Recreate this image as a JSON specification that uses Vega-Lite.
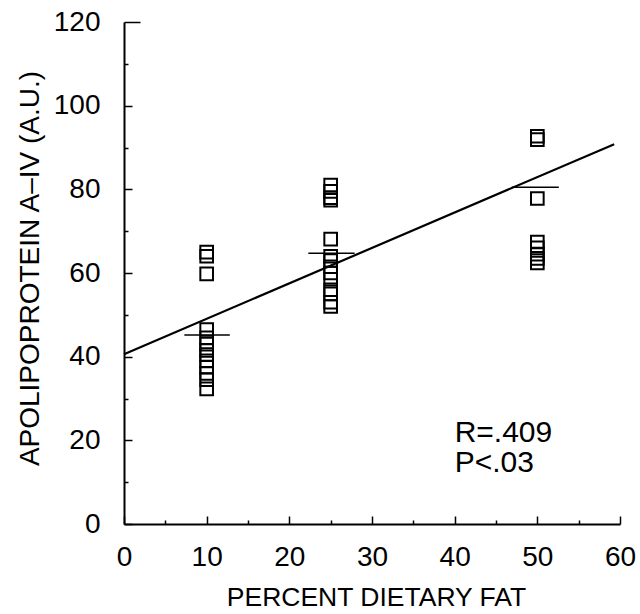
{
  "$schema": "https://vega.github.io/schema/vega-lite/v6.json",
  "width": 496,
  "height": 502,
  "autosize": "none",
  "padding": {"left": 124, "top": 22, "right": 20, "bottom": 90},
  "background": "white",
  "config": {
    "view": {"stroke": null},
    "font": "Liberation Sans",
    "axis": {
      "grid": false,
      "domainColor": "black",
      "domainWidth": 2,
      "tickColor": "black",
      "tickWidth": 1.5,
      "labelColor": "black",
      "titleColor": "black",
      "labelFont": "Liberation Sans",
      "titleFont": "Liberation Sans",
      "labelFontWeight": "normal",
      "titleFontWeight": "normal"
    }
  },
  "datasets": {
    "points": [
      {"fat": 10, "apo": 65.0}, {"fat": 10, "apo": 64.0}, {"fat": 10, "apo": 59.8},
      {"fat": 10, "apo": 46.5}, {"fat": 10, "apo": 44.5}, {"fat": 10, "apo": 43.0},
      {"fat": 10, "apo": 41.5}, {"fat": 10, "apo": 40.5}, {"fat": 10, "apo": 39.0},
      {"fat": 10, "apo": 37.5}, {"fat": 10, "apo": 36.0}, {"fat": 10, "apo": 34.5},
      {"fat": 10, "apo": 32.3},
      {"fat": 25, "apo": 81.0}, {"fat": 25, "apo": 79.5}, {"fat": 25, "apo": 78.0},
      {"fat": 25, "apo": 77.4}, {"fat": 25, "apo": 68.1}, {"fat": 25, "apo": 64.0},
      {"fat": 25, "apo": 63.0}, {"fat": 25, "apo": 61.5}, {"fat": 25, "apo": 60.0},
      {"fat": 25, "apo": 58.5}, {"fat": 25, "apo": 56.0}, {"fat": 25, "apo": 55.0},
      {"fat": 25, "apo": 53.0}, {"fat": 25, "apo": 52.0},
      {"fat": 50, "apo": 92.7}, {"fat": 50, "apo": 91.9}, {"fat": 50, "apo": 77.8},
      {"fat": 50, "apo": 67.4}, {"fat": 50, "apo": 66.0}, {"fat": 50, "apo": 64.5},
      {"fat": 50, "apo": 63.5}, {"fat": 50, "apo": 62.4}
    ],
    "means": [
      {"fat": 7.3, "fat2": 12.8, "apo": 45.2},
      {"fat": 22.3, "fat2": 27.9, "apo": 64.7},
      {"fat": 46.9, "fat2": 52.6, "apo": 80.5}
    ],
    "fit": [
      {"fat": 0, "apo": 40.6},
      {"fat": 59.3, "apo": 90.8}
    ],
    "notes": [
      {"fat": 40, "apo": 19.6, "label": "R=.409"},
      {"fat": 40, "apo": 12.4, "label": "P<.03"}
    ]
  },
  "layer": [
    {
      "data": {"name": "points"},
      "mark": {"type": "point", "shape": "square", "filled": false, "color": "black", "size": 160, "strokeWidth": 2, "opacity": 1},
      "encoding": {
        "x": {
          "field": "fat", "type": "quantitative",
          "scale": {"domain": [0, 60], "nice": false, "zero": true},
          "axis": {
            "title": "PERCENT DIETARY FAT",
            "values": [0, 5, 10, 15, 20, 25, 30, 35, 40, 45, 50, 55, 60],
            "labelExpr": "datum.value % 10 === 0 ? datum.label : ''",
            "tickSize": -8,
            "encoding": {
              "ticks": {
                "y2": {"condition": {"test": "datum.value % 10 === 0", "value": -8}, "value": -4}
              }
            },
            "labelPadding": 27,
            "labelBaseline": "top",
            "labelFontSize": 28,
            "labelFlush": false,
            "labelOverlap": false,
            "titleFontSize": 26.5,
            "titleBaseline": "alphabetic",
            "titleX": 252,
            "titleY": 81
          }
        },
        "y": {
          "field": "apo", "type": "quantitative",
          "scale": {"domain": [0, 120], "nice": false, "zero": true},
          "axis": {
            "title": "APOLIPOPROTEIN A–IV (A.U.)",
            "values": [0, 10, 20, 30, 40, 50, 60, 70, 80, 90, 100, 110, 120],
            "labelExpr": "datum.value % 20 === 0 ? datum.label : ''",
            "tickSize": -8,
            "encoding": {
              "ticks": {
                "x2": {"condition": [{"test": "datum.value === 120", "value": 16}, {"test": "datum.value % 20 === 0", "value": 8}], "value": 4}
              }
            },
            "labelPadding": 32,
            "labelFontSize": 28,
            "labelFlush": false,
            "labelOverlap": false,
            "labelBaseline": "middle",
            "titleFontSize": 28,
            "titleAngle": -90,
            "titleAlign": "center",
            "titleBaseline": "alphabetic",
            "titleX": -86,
            "titleY": 246
          }
        }
      }
    },
    {
      "data": {"name": "fit"},
      "mark": {"type": "line", "color": "black", "strokeWidth": 2.2},
      "encoding": {
        "x": {"field": "fat", "type": "quantitative"},
        "y": {"field": "apo", "type": "quantitative"}
      }
    },
    {
      "data": {"name": "means"},
      "mark": {"type": "rule", "color": "black", "strokeWidth": 1.5},
      "encoding": {
        "x": {"field": "fat", "type": "quantitative"},
        "x2": {"field": "fat2"},
        "y": {"field": "apo", "type": "quantitative"}
      }
    },
    {
      "data": {"name": "notes"},
      "mark": {"type": "text", "align": "left", "baseline": "alphabetic", "fontSize": 30, "font": "Liberation Sans", "color": "black"},
      "encoding": {
        "x": {"field": "fat", "type": "quantitative"},
        "y": {"field": "apo", "type": "quantitative"},
        "text": {"field": "label"}
      }
    }
  ]
}
